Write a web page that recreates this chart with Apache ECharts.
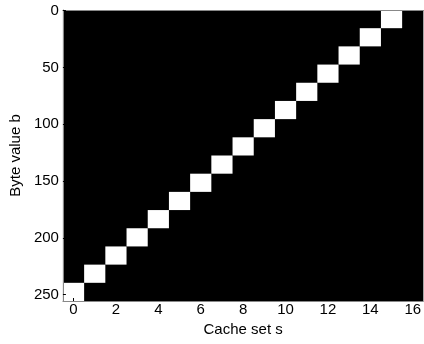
<!DOCTYPE html>
<html>
<head>
<meta charset="utf-8">
<script src="https://cdn.jsdelivr.net/npm/echarts@6/dist/echarts.min.js"></script>
<style>
  html, body { margin: 0; padding: 0; background: #fff; }
  #chart { width: 424px; height: 344px; }
</style>
</head>
<body>
<div id="chart"></div>
<script>
// 数据：每个 cache set 对应的字节块（白色方块）
var cacheSets = [0, 1, 2, 3, 4, 5, 6, 7, 8, 9, 10, 11, 12, 13, 14, 15];
var byteStart = [240, 224, 208, 192, 176, 160, 144, 128, 112, 96, 80, 64, 48, 32, 16, 0];
var blockSize = 16;
var xTicks = [0, 2, 4, 6, 8, 10, 12, 14, 16];
var yTicks = [0, 50, 100, 150, 200, 250];

var cells = cacheSets.map(function (s, i) {
    return [s, byteStart[i]];
});

var myChart = echarts.init(document.getElementById('chart'));

var font = 'Liberation Sans, Arial, Helvetica, sans-serif';
var lineColor = '#888';

var option = {
    animation: false,
    backgroundColor: '#fff',
    grid: {
        left: 60,
        top: 10,
        right: -4,
        bottom: 43,
        show: true,
        backgroundColor: '#000',
        borderWidth: 0
    },
    xAxis: [{
        type: 'value',
        position: 'bottom',
        min: -0.5,
        max: 16.5,
        z: 3,
        name: 'Cache set s',
        nameLocation: 'middle',
        nameGap: 14,
        nameTextStyle: { color: '#000', fontSize: 15, fontFamily: font },
        axisLine: { show: true, onZero: false, lineStyle: { color: lineColor, width: 1 } },
        axisTick: { show: true, inside: true, length: 3, customValues: xTicks, lineStyle: { color: '#000' } },
        axisLabel: { customValues: xTicks, color: '#000', fontSize: 15, fontFamily: font, margin: 1 },
        splitLine: { show: false }
    }, {
        type: 'value',
        position: 'top',
        min: -0.5,
        max: 16.5,
        z: 3,
        axisLine: { show: true, onZero: false, lineStyle: { color: lineColor, width: 1 } },
        axisTick: { show: false },
        axisLabel: { show: false },
        splitLine: { show: false }
    }],
    yAxis: {
        type: 'value',
        inverse: true,
        min: -0.5,
        max: 255.5,
        z: 3,
        name: 'Byte value b',
        nameLocation: 'middle',
        nameGap: 33,
        nameTextStyle: { color: '#000', fontSize: 15, fontFamily: font },
        axisLine: { show: true, onZero: false, lineStyle: { color: lineColor, width: 1 } },
        axisTick: { show: true, inside: true, length: 3, customValues: yTicks, lineStyle: { color: '#000' } },
        axisLabel: { customValues: yTicks, color: '#000', fontSize: 15, fontFamily: font, margin: 4 },
        splitLine: { show: false }
    },
    series: [{
        type: 'custom',
        xAxisIndex: 0,
        yAxisIndex: 0,
        data: cells,
        renderItem: function (params, api) {
            var s = api.value(0);
            var b0 = api.value(1);
            var p0 = api.coord([s - 0.5, b0 - 0.5]);
            var p1 = api.coord([s + 0.5, b0 + blockSize - 0.5]);
            return {
                type: 'rect',
                shape: {
                    x: Math.min(p0[0], p1[0]),
                    y: Math.min(p0[1], p1[1]),
                    width: Math.abs(p1[0] - p0[0]),
                    height: Math.abs(p1[1] - p0[1])
                },
                style: { fill: '#fff' }
            };
        }
    }]
};

myChart.setOption(option);
</script>
</body>
</html>
